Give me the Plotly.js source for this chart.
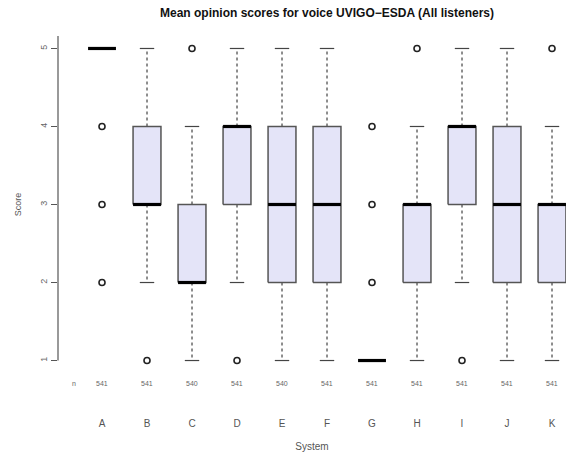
<!DOCTYPE html>
<html><head><meta charset="utf-8">
<script src="https://cdn.plot.ly/plotly-3.0.1.min.js"></script>
<style>body{margin:0;background:#fff}#chart{width:566px;height:453px}</style>
</head><body><div id="chart"></div>
<script>
var systems = ['A','B','C','D','E','F','G','H','I','J','K'];
var counts = [541,541,540,541,540,541,541,541,541,541,541];
var q1 = [5,3,2,3,2,2,1,2,3,2,2];
var medians = [5,3,2,4,3,3,1,3,4,3,3];
var q3 = [5,4,3,4,4,4,1,3,4,4,3];
var lowWhisker = [5,2,1,2,1,1,1,1,2,1,1];
var highWhisker = [5,5,4,5,5,5,1,4,5,5,4];
var outliers = [[2,3,4],[1],[5],[1],[],[],[2,3,4],[5],[1],[],[5]];

var BW = 0.31, CW = 0.16;
var bx=[],by=[],wx=[],wy=[],cx=[],cy=[],mx=[],my=[],ox=[],oy=[];
systems.forEach(function(s,i){
  var p=i+1;
  if(q3[i]>q1[i]){
    bx.push(p-BW,p+BW,p+BW,p-BW,p-BW,null);
    by.push(q1[i],q1[i],q3[i],q3[i],q1[i],null);
  }
  if(highWhisker[i]>q3[i]){
    wx.push(p,p,null); wy.push(q3[i],highWhisker[i],null);
    cx.push(p-CW,p+CW,null); cy.push(highWhisker[i],highWhisker[i],null);
  }
  if(lowWhisker[i]<q1[i]){
    wx.push(p,p,null); wy.push(q1[i],lowWhisker[i],null);
    cx.push(p-CW,p+CW,null); cy.push(lowWhisker[i],lowWhisker[i],null);
  }
  mx.push(p-BW,p+BW,null); my.push(medians[i],medians[i],null);
  outliers[i].forEach(function(v){ox.push(p);oy.push(v);});
});

var traces=[
 {x:wx,y:wy,mode:'lines',line:{color:'#444',width:1.2,dash:'3px,3px'},hoverinfo:'skip',cliponaxis:false},
 {x:cx,y:cy,mode:'lines',line:{color:'#444',width:1.2},hoverinfo:'skip',cliponaxis:false},
 {x:bx,y:by,mode:'lines',fill:'toself',fillcolor:'#E4E4F8',line:{color:'#555',width:1.5},hoverinfo:'skip'},
 {x:mx,y:my,mode:'lines',line:{color:'#000',width:3.2},hoverinfo:'skip',cliponaxis:false},
 {x:ox,y:oy,mode:'markers',marker:{symbol:'circle-open',size:6,color:'#222',line:{width:1.6}},hoverinfo:'skip',cliponaxis:false}
];

var ann=[{xref:'paper',yref:'paper',x:(70-58)/508,y:0,yanchor:'top',yshift:-5,text:'n',showarrow:false,font:{size:7,color:'#666'}}];
systems.forEach(function(s,i){
  ann.push({xref:'x',yref:'paper',x:i+1,y:0,yanchor:'top',yshift:-5,text:String(counts[i]),showarrow:false,font:{size:7,color:'#666'}});
});

var layout={
 width:566,height:453,
 margin:{l:58,r:0,t:36,b:80},
 paper_bgcolor:'#fff',plot_bgcolor:'#fff',
 showlegend:false,
 font:{family:'Liberation Sans, Arial, sans-serif',color:'#444'},
 title:{text:'<b>Mean opinion scores for voice UVIGO\u2212ESDA (All listeners)</b>',font:{size:12,color:'#111'},xref:'container',x:327/566,xanchor:'center',yref:'container',y:1-13/453,yanchor:'middle'},
 xaxis:{range:[0.022,11.311],tickvals:systems.map(function(s,i){return i+1;}),ticktext:systems,ticks:'',showline:false,showgrid:false,zeroline:false,ticklabelstandoff:43,tickfont:{size:10,color:'#555'},
   title:{text:'System',font:{size:10,color:'#555'},standoff:14}},
 yaxis:{range:[0.84,5.16],tickvals:[1,2,3,4,5],ticktext:['1','2','3','4','5'],tickangle:-90,ticks:'outside',ticklen:6,tickcolor:'#555',tickwidth:1,showline:false,showgrid:false,zeroline:false,tickfont:{size:9,color:'#666'},
   title:{text:'Score',font:{size:9,color:'#555'},standoff:16}},
 shapes:[{type:'line',xref:'paper',yref:'y',x0:0,x1:0,y0:1,y1:5.16,line:{color:'#555',width:1.2}}],
 annotations:ann
};
Plotly.newPlot('chart',traces,layout,{staticPlot:true});
</script></body></html>
